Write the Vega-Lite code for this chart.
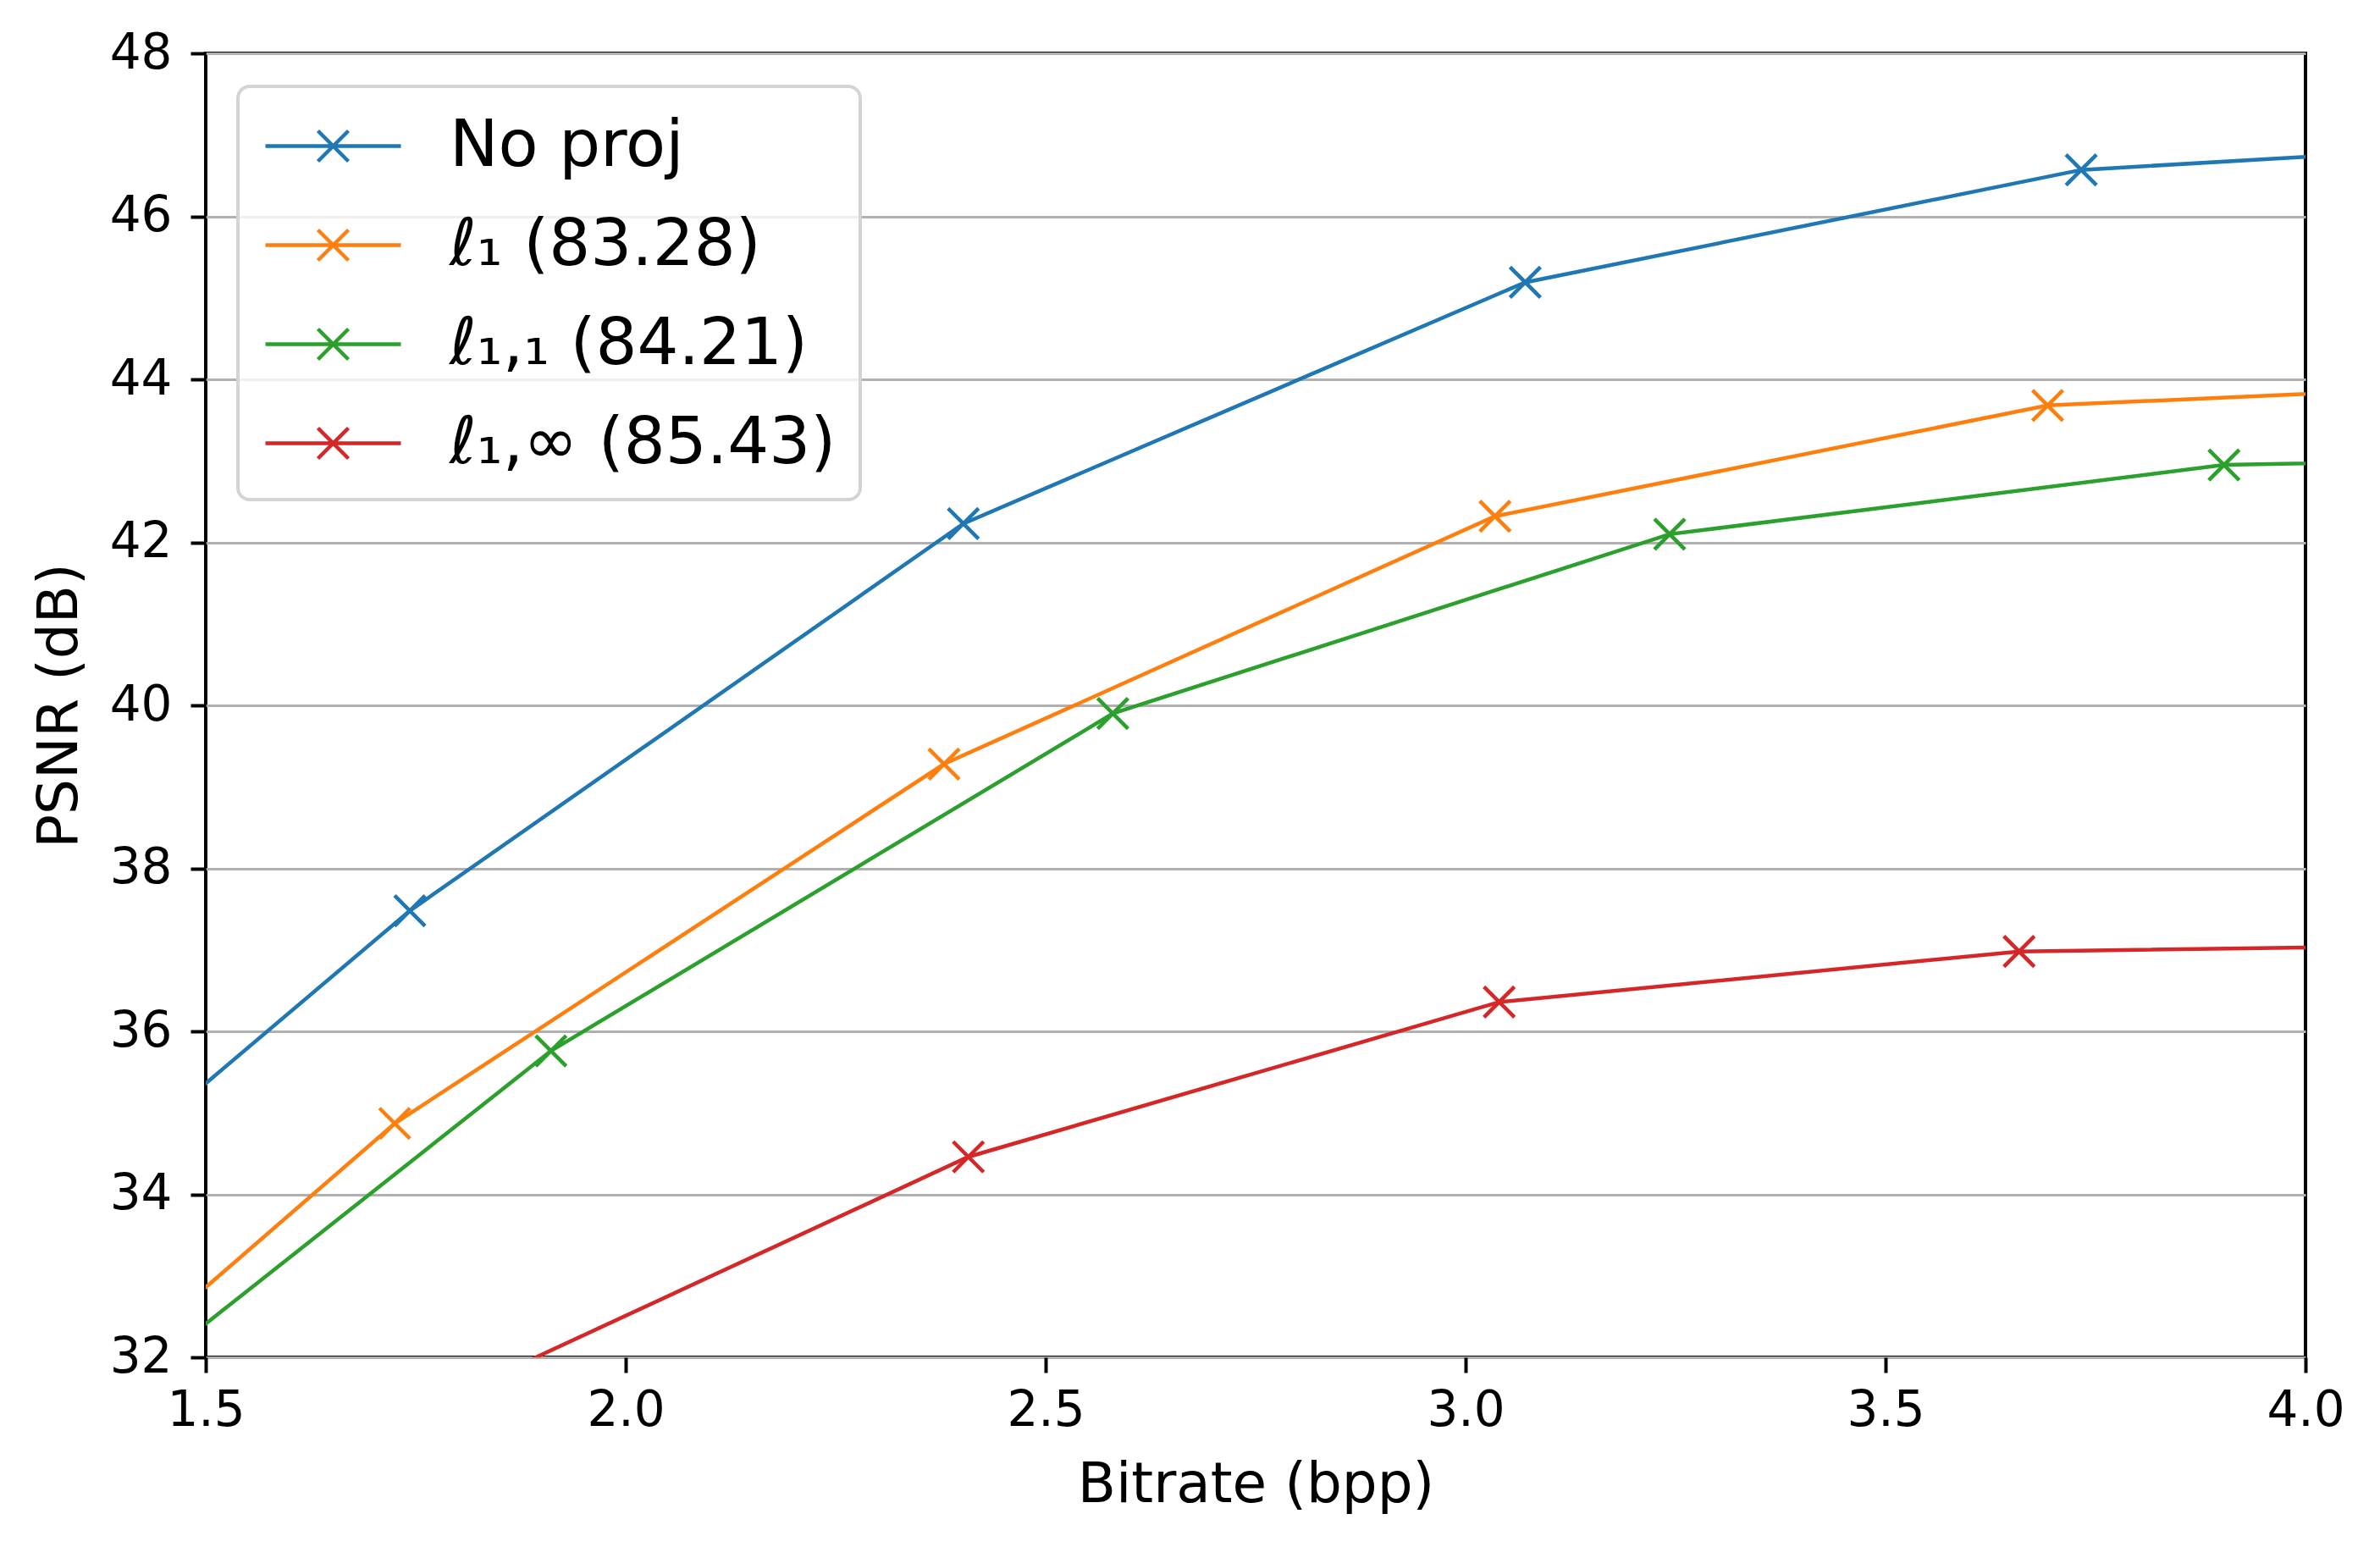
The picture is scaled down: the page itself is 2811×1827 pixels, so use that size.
{
  "$schema": "https://vega.github.io/schema/vega-lite/v6.json",
  "width": 2480,
  "height": 1540,
  "autosize": {"type": "none"},
  "padding": {"left": 243, "top": 63, "right": 88, "bottom": 224},
  "background": "white",
  "data": {
    "values": [
      {"series": "No proj", "x": 1.08, "y": 31.7},
      {"series": "No proj", "x": 1.743, "y": 37.48},
      {"series": "No proj", "x": 2.402, "y": 42.23},
      {"series": "No proj", "x": 3.071, "y": 45.19},
      {"series": "No proj", "x": 3.733, "y": 46.57},
      {"series": "No proj", "x": 4.40, "y": 46.97},
      {"series": "ℓ₁ (83.28)", "x": 1.07, "y": 29.02},
      {"series": "ℓ₁ (83.28)", "x": 1.725, "y": 34.87},
      {"series": "ℓ₁ (83.28)", "x": 2.379, "y": 39.28},
      {"series": "ℓ₁ (83.28)", "x": 3.035, "y": 42.32},
      {"series": "ℓ₁ (83.28)", "x": 3.693, "y": 43.68},
      {"series": "ℓ₁ (83.28)", "x": 4.35, "y": 43.98},
      {"series": "ℓ₁,₁ (84.21)", "x": 1.247, "y": 30.35},
      {"series": "ℓ₁,₁ (84.21)", "x": 1.911, "y": 35.76},
      {"series": "ℓ₁,₁ (84.21)", "x": 2.580, "y": 39.90},
      {"series": "ℓ₁,₁ (84.21)", "x": 3.243, "y": 42.10},
      {"series": "ℓ₁,₁ (84.21)", "x": 3.903, "y": 42.95},
      {"series": "ℓ₁,₁ (84.21)", "x": 4.57, "y": 43.08},
      {"series": "ℓ₁,∞ (85.43)", "x": 1.778, "y": 31.45},
      {"series": "ℓ₁,∞ (85.43)", "x": 2.408, "y": 34.46},
      {"series": "ℓ₁,∞ (85.43)", "x": 3.040, "y": 36.36},
      {"series": "ℓ₁,∞ (85.43)", "x": 3.659, "y": 36.98},
      {"series": "ℓ₁,∞ (85.43)", "x": 4.29, "y": 37.07}
    ]
  },
  "encoding": {
    "x": {
      "field": "x", "type": "quantitative",
      "scale": {"domain": [1.5, 4.0], "nice": false, "zero": false},
      "axis": {
        "title": "Bitrate (bpp)",
        "values": [1.5, 2.0, 2.5, 3.0, 3.5, 4.0],
        "format": ".1f",
        "grid": false,
        "labelFlush": false,
        "titleY": 170,
        "titleBaseline": "alphabetic"
      }
    },
    "y": {
      "field": "y", "type": "quantitative",
      "scale": {"domain": [32, 48], "nice": false, "zero": false},
      "axis": {
        "title": "PSNR (dB)",
        "values": [32, 34, 36, 38, 40, 42, 44, 46, 48],
        "grid": true,
        "labelFlush": false,
        "titleX": -153,
        "titleY": 770,
        "titleBaseline": "alphabetic",
        "titleAngle": -90
      }
    },
    "color": {
      "field": "series", "type": "nominal",
      "scale": {
        "domain": ["No proj", "ℓ₁ (83.28)", "ℓ₁,₁ (84.21)", "ℓ₁,∞ (85.43)"],
        "range": ["#1f77b4", "#ff7f0e", "#2ca02c", "#d62728"]
      }
    }
  },
  "layer": [
    {
      "mark": {"type": "line", "strokeWidth": 4.5, "clip": true},
      "encoding": {
        "color": {
          "field": "series", "type": "nominal",
          "scale": {
            "domain": ["No proj", "ℓ₁ (83.28)", "ℓ₁,₁ (84.21)", "ℓ₁,∞ (85.43)"],
            "range": ["#1f77b4", "#ff7f0e", "#2ca02c", "#d62728"]
          },
          "legend": {
            "title": null,
            "orient": "none",
            "legendX": 38,
            "legendY": 39,
            "symbolType": "M-2,0L2,0M-0.45,-0.45L0.45,0.45M-0.45,0.45L0.45,-0.45",
            "symbolSize": 6400,
            "symbolOffset": 42,
            "symbolStrokeWidth": 4.5,
            "symbolFillColor": "transparent"
          }
        }
      }
    },
    {
      "mark": {
        "type": "point",
        "shape": "M-1,-1L1,1M-1,1L1,-1",
        "filled": false,
        "size": 1296,
        "strokeWidth": 4.5,
        "opacity": 1,
        "clip": true
      },
      "encoding": {
        "color": {
          "field": "series", "type": "nominal",
          "scale": {
            "domain": ["No proj", "ℓ₁ (83.28)", "ℓ₁,₁ (84.21)", "ℓ₁,∞ (85.43)"],
            "range": ["#1f77b4", "#ff7f0e", "#2ca02c", "#d62728"]
          },
          "legend": null
        }
      }
    }
  ],
  "config": {
    "font": "DejaVu Sans",
    "view": {"stroke": "black", "strokeWidth": 4},
    "axis": {
      "domain": false,
      "labelFont": "DejaVu Sans",
      "labelFontSize": 58,
      "labelColor": "black",
      "titleFont": "DejaVu Sans",
      "titleFontSize": 66,
      "titleFontWeight": "normal",
      "titleColor": "black",
      "tickColor": "black",
      "tickSize": 18,
      "tickWidth": 4,
      "gridColor": "#b0b0b0",
      "gridWidth": 3,
      "gridOpacity": 1
    },
    "axisX": {"labelPadding": 16},
    "axisY": {"labelPadding": 22},
    "legend": {
      "labelFont": "DejaVu Sans",
      "labelFontSize": 77,
      "labelColor": "black",
      "labelOffset": 95,
      "fillColor": "rgba(255,255,255,0.8)",
      "strokeColor": "#d4d4d4",
      "strokeWidth": 4,
      "cornerRadius": 14,
      "padding": 28,
      "rowPadding": 36,
      "labelLimit": 1000
    }
  }
}
